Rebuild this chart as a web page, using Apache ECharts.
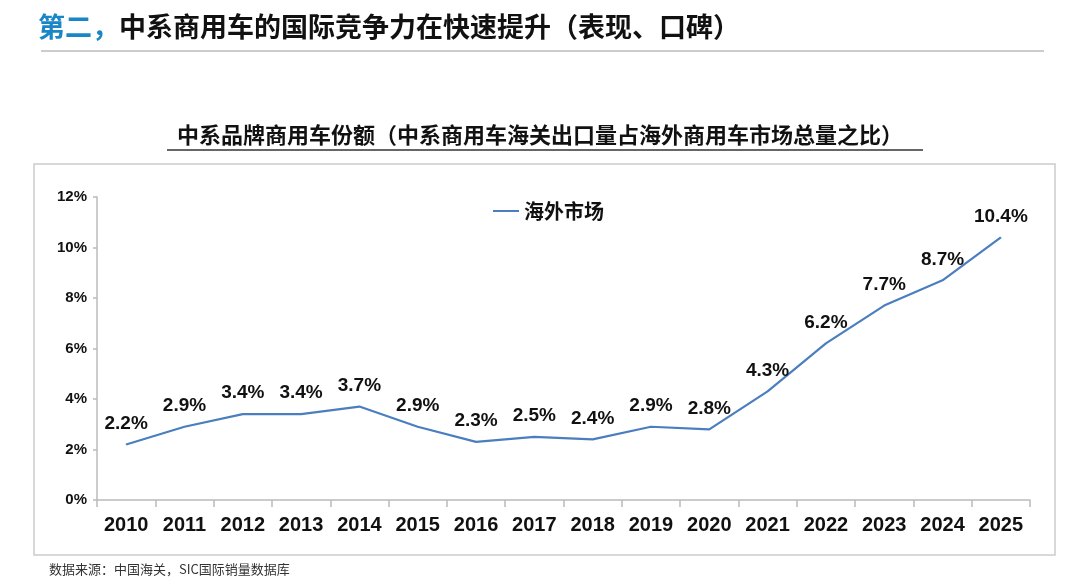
<!DOCTYPE html>
<html>
<head>
<meta charset="utf-8">
<script src="https://cdn.jsdelivr.net/npm/echarts@6/dist/echarts.min.js"></script>
<style>
  html, body { margin: 0; padding: 0; background: #fff; }
  #main { width: 1080px; height: 579px; }
</style>
</head>
<body>
<div id="main"></div>
<script>
// 年份
var years = ['2010','2011','2012','2013','2014','2015','2016','2017','2018','2019','2020','2021','2022','2023','2024','2025'];
// 中系品牌商用车份额（%）
var shareValues = [2.2, 2.9, 3.4, 3.4, 3.7, 2.9, 2.3, 2.5, 2.4, 2.9, 2.8, 4.3, 6.2, 7.7, 8.7, 10.4];
// 纵轴刻度
var yTicks = [0, 2, 4, 6, 8, 10, 12];

var cjk = '"Noto Sans CJK SC", "Noto Sans", sans-serif';
var latin = '"Liberation Sans", Arial, sans-serif';

var myChart = echarts.init(document.getElementById('main'));
var option = {
    backgroundColor: '#fff',
    animation: false,
    title: [
        {
            text: '{b|第二，}{d|中系商用车的国际竞争力在快速提升（表现、口碑）}',
            left: 33,
            top: 8,
            textStyle: {
                rich: {
                    b: { color: '#1a86c8', fontFamily: cjk, fontSize: 27, fontWeight: 'bold' },
                    d: { color: '#111', fontFamily: cjk, fontSize: 27, fontWeight: 'bold' }
                }
            }
        },
        {
            text: '中系品牌商用车份额（中系商用车海关出口量占海外商用车市场总量之比）',
            left: 'center',
            top: 119,
            textStyle: { color: '#111', fontFamily: cjk, fontSize: 22, fontWeight: 'bold' }
        },
        {
            text: '数据来源：中国海关，SIC国际销量数据库',
            left: 44,
            top: 558,
            textStyle: { color: '#333', fontFamily: cjk, fontSize: 13, fontWeight: 'normal' }
        }
    ],
    graphic: [
        // 标题下分隔线
        { type: 'line', shape: { x1: 41, y1: 51, x2: 1044, y2: 51 }, style: { stroke: '#bbb', lineWidth: 1.5 } },
        // 副标题下划线
        { type: 'line', shape: { x1: 167, y1: 150, x2: 923, y2: 150 }, style: { stroke: '#333', lineWidth: 1.5 } },
        // 图表外框
        { type: 'rect', shape: { x: 34, y: 164, width: 1021, height: 391 }, style: { fill: 'none', stroke: '#ccc', lineWidth: 1.5 } }
    ],
    legend: {
        data: ['海外市场'],
        left: 488,
        top: 196,
        itemWidth: 26,
        itemHeight: 2,
        itemGap: 6,
        icon: 'rect',
        textStyle: { color: '#111', fontFamily: cjk, fontSize: 20, fontWeight: 'bold' }
    },
    grid: { left: 97, right: 50, top: 197, bottom: 79, containLabel: false },
    xAxis: {
        type: 'category',
        data: years,
        boundaryGap: true,
        axisLine: { lineStyle: { color: '#bbb', width: 1.5 } },
        axisTick: { show: true, length: 7, lineStyle: { color: '#bbb', width: 1.5 } },
        axisLabel: { color: '#111', fontFamily: latin, fontSize: 20, fontWeight: 'bold', margin: 15 },
        splitLine: { show: false }
    },
    yAxis: {
        type: 'value',
        min: yTicks[0],
        max: yTicks[yTicks.length - 1],
        interval: 2,
        axisLine: { show: true, lineStyle: { color: '#bbb', width: 1.5 } },
        axisTick: { show: true, length: 4, lineStyle: { color: '#bbb', width: 1.5 } },
        axisLabel: { color: '#111', fontFamily: latin, fontSize: 15, fontWeight: 'bold', margin: 10, formatter: '{value}%' },
        splitLine: { show: false }
    },
    series: [
        {
            name: '海外市场',
            type: 'line',
            data: shareValues,
            symbol: 'circle',
            symbolSize: 1,
            showSymbol: true,
            smooth: false,
            lineStyle: { color: '#4a7ebf', width: 2.2 },
            itemStyle: { color: '#4a7ebf' },
            label: {
                show: true,
                position: 'top',
                distance: 11,
                color: '#111',
                fontFamily: latin,
                fontSize: 19,
                fontWeight: 'bold',
                formatter: function (p) { return p.value.toFixed(1) + '%'; }
            }
        }
    ]
};
myChart.setOption(option);
</script>
</body>
</html>
